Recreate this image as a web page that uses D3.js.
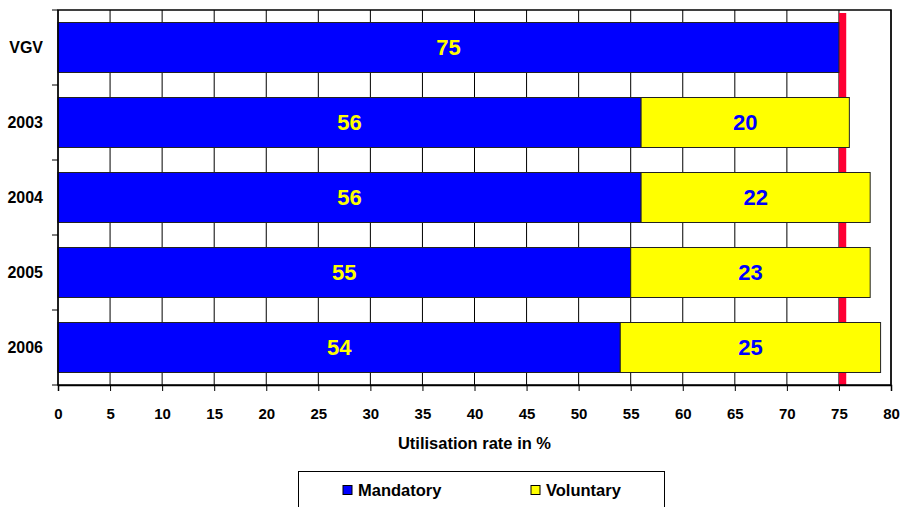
<!DOCTYPE html>
<html>
<head>
<meta charset="utf-8">
<script src="https://cdn.jsdelivr.net/npm/d3@7"></script>
<style>
  body { margin: 0; background: #fff; overflow: hidden; }
  text { font-family: "Liberation Sans", Arial, sans-serif; font-weight: bold; }
</style>
</head>
<body>
<div id="svg-container"></div>
<script>
// Chart values
const categories = ["VGV", "2003", "2004", "2005", "2006"];
const mandatory = [75, 56, 56, 55, 54];
const voluntary = [0, 20, 22, 23, 25];
const xTicks = d3.range(0, 81, 5);
const target = 75;          // red reference bar
const targetWidth = 0.7;

const width = 904;
const height = 507;
const margins = { top: 10, right: 13, bottom: 122, left: 58 };
const innerWidth = width - margins.left - margins.right;
const innerHeight = height - margins.top - margins.bottom;

const svg = d3.select("#svg-container")
  .append("svg")
    .attr("width", width)
    .attr("height", height)
    .style("display", "block");

const mainG = svg.append("g")
  .attr("transform", `translate(${margins.left}, ${margins.top})`);

const xScale = d3.scaleLinear()
  .domain([0, 80])
  .range([0, innerWidth]);

const yScale = d3.scaleBand()
  .domain(categories)
  .range([0, innerHeight])
  .paddingInner(1 / 3)
  .paddingOuter(1 / 6);

// vertical gridlines
mainG.selectAll(".grid")
  .data(xTicks)
  .enter()
  .append("line")
    .attr("x1", d => xScale(d))
    .attr("x2", d => xScale(d))
    .attr("y1", 0)
    .attr("y2", innerHeight)
    .attr("stroke", "#000")
    .attr("stroke-width", 1);

// red target bar (behind the bars)
mainG.append("rect")
  .attr("x", xScale(target))
  .attr("y", 3)
  .attr("width", xScale(target + targetWidth) - xScale(target))
  .attr("height", innerHeight - 3)
  .attr("fill", "#FF0033");

const rows = categories.map((c, i) => ({ cat: c, m: mandatory[i], v: voluntary[i] }));

// Mandatory bars
mainG.selectAll(".mand")
  .data(rows)
  .enter()
  .append("rect")
    .attr("x", xScale(0))
    .attr("y", d => yScale(d.cat))
    .attr("width", d => xScale(d.m) - xScale(0))
    .attr("height", yScale.bandwidth())
    .attr("fill", "#0000FF")
    .attr("stroke", "#222")
    .attr("stroke-width", 1);

// Voluntary bars
mainG.selectAll(".vol")
  .data(rows.filter(d => d.v > 0))
  .enter()
  .append("rect")
    .attr("x", d => xScale(d.m))
    .attr("y", d => yScale(d.cat))
    .attr("width", d => xScale(d.m + d.v) - xScale(d.m))
    .attr("height", yScale.bandwidth())
    .attr("fill", "#FFFF00")
    .attr("stroke", "#222")
    .attr("stroke-width", 1);

// value labels
mainG.selectAll(".mlab")
  .data(rows)
  .enter()
  .append("text")
    .attr("x", d => xScale(d.m / 2))
    .attr("y", d => yScale(d.cat) + yScale.bandwidth() / 2)
    .attr("dy", "0.36em")
    .attr("text-anchor", "middle")
    .style("font-size", "22px")
    .attr("fill", "#FFFF00")
    .text(d => d.m);

mainG.selectAll(".vlab")
  .data(rows.filter(d => d.v > 0))
  .enter()
  .append("text")
    .attr("x", d => xScale(d.m + d.v / 2))
    .attr("y", d => yScale(d.cat) + yScale.bandwidth() / 2)
    .attr("dy", "0.36em")
    .attr("text-anchor", "middle")
    .style("font-size", "22px")
    .attr("fill", "#0000FF")
    .text(d => d.v);

// plot frame
mainG.append("rect")
  .attr("width", innerWidth)
  .attr("height", innerHeight)
  .attr("fill", "none")
  .attr("stroke", "#000")
  .attr("stroke-width", 1.5);

// x axis
const xAxis = mainG.append("g")
  .attr("transform", `translate(0, ${innerHeight})`)
  .call(d3.axisBottom(xScale).tickValues(xTicks).tickSize(6).tickPadding(17));
xAxis.select(".domain").attr("stroke", "#000").attr("stroke-width", 1.5);
xAxis.selectAll("text").style("font-size", "15px").attr("fill", "#000");

// y axis: ticks at band boundaries
const boundaries = d3.range(0, categories.length + 1).map(i => i * innerHeight / categories.length);
mainG.selectAll(".ytick")
  .data(boundaries)
  .enter()
  .append("line")
    .attr("x1", -6)
    .attr("x2", 0)
    .attr("y1", d => d)
    .attr("y2", d => d)
    .attr("stroke", "#000");

mainG.selectAll(".ylab")
  .data(categories)
  .enter()
  .append("text")
    .attr("x", -15)
    .attr("y", d => yScale(d) + yScale.bandwidth() / 2)
    .attr("dy", "0.36em")
    .attr("text-anchor", "end")
    .style("font-size", "16px")
    .text(d => d);

// axis title
svg.append("text")
  .attr("x", margins.left + innerWidth / 2)
  .attr("y", 443)
  .attr("dy", "0.36em")
  .attr("text-anchor", "middle")
  .style("font-size", "16.5px")
  .text("Utilisation rate in %");

// legend
const legend = svg.append("g");
legend.append("rect")
  .attr("x", 298.5)
  .attr("y", 471.5)
  .attr("width", 366)
  .attr("height", 40)
  .attr("fill", "#fff")
  .attr("stroke", "#000")
  .attr("stroke-width", 1);

const legendItems = [
  { name: "Mandatory", color: "#0000FF", x: 343 },
  { name: "Voluntary", color: "#FFFF00", x: 531 }
];
legendItems.forEach(item => {
  legend.append("rect")
    .attr("x", item.x)
    .attr("y", 485.5)
    .attr("width", 9)
    .attr("height", 9)
    .attr("fill", item.color)
    .attr("stroke", "#000");
  legend.append("text")
    .attr("x", item.x + 15)
    .attr("y", 490)
    .attr("dy", "0.36em")
    .style("font-size", "16.5px")
    .text(item.name);
});
</script>
</body>
</html>
